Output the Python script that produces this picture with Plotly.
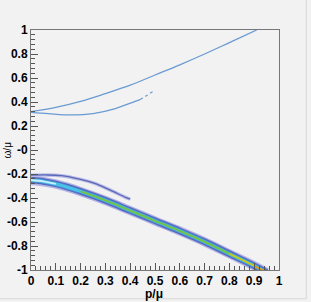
import plotly.graph_objects as go

# Upper branch (solid, reaches top of frame)
upper_p = [0.0, 0.1, 0.2, 0.3, 0.4, 0.5, 0.6, 0.7, 0.8, 0.91]
upper_w = [0.319, 0.355, 0.405, 0.47, 0.54, 0.625, 0.71, 0.8, 0.895, 1.0]

# Lower curve of the upper pair (solid part, then dotted tail)
mid_p = [0.0, 0.07, 0.16, 0.25, 0.34, 0.42, 0.44]
mid_w = [0.314, 0.303, 0.292, 0.303, 0.345, 0.405, 0.42]
mid_tail_p = [0.44, 0.465, 0.49]
mid_tail_w = [0.42, 0.452, 0.486]

# Main (lower) band centre line
band_p = [0.0, 0.05, 0.1, 0.2, 0.3, 0.4, 0.5, 0.6, 0.7, 0.8, 0.9, 0.95]
band_w = [-0.25, -0.262, -0.283, -0.345, -0.42, -0.505, -0.59, -0.675, -0.765, -0.865, -0.965, -1.02]
# lower halo edge of the band
halo_w = [-0.272, -0.283, -0.303, -0.363, -0.438, -0.521, -0.605, -0.69, -0.778, -0.876, -0.976, -1.03]

# Secondary branch above the main band
sec_p = [0.0, 0.06, 0.122, 0.2, 0.257, 0.32, 0.384, 0.4]
sec_w = [-0.21, -0.208, -0.214, -0.245, -0.278, -0.335, -0.397, -0.41]

# y tick labels
y_vals = [-1, -0.8, -0.6, -0.4, -0.2, 0, 0.2, 0.4, 0.6, 0.8, 1]
y_text = ["-1", "-0.8", "-0.6", "-0.4", "-0.2", "-0", "0.2", "0.4", "0.6", "0.8", "1"]
x_vals = [0, 0.1, 0.2, 0.3, 0.4, 0.5, 0.6, 0.7, 0.8, 0.9, 1]
x_text = ["0", "0.1", "0.2", "0.3", "0.4", "0.5", "0.6", "0.7", "0.8", "0.9", "1"]

fig = go.Figure()

def add(x, y, color, width, dash="solid", shape="spline"):
    fig.add_trace(go.Scatter(x=x, y=y, mode="lines",
                             line=dict(color=color, width=width, dash=dash, shape=shape),
                             hoverinfo="skip", showlegend=False))

def sub(xs, ys, lo, hi):
    px, py = [], []
    for a, b in zip(xs, ys):
        if lo <= a <= hi:
            px.append(a); py.append(b)
    return px, py

# main band layers
add(band_p, halo_w, "#c4c4ea", 5)
add(band_p, band_w, "#b0b0e4", 9)
add(band_p, band_w, "#5565bf", 6.5)
add(band_p, band_w, "#4a88d0", 4.5)
add(band_p, band_w, "#48c2e6", 3)
gp, gw = sub(band_p, band_w, 0.2, 0.95)
add(gp, gw, "#74c244", 2)
yp, yw = sub(band_p, band_w, 0.8, 0.95)
add(yp, yw, "#c8c828", 1.8)
op, ow = sub(band_p, band_w, 0.9, 0.95)
add(op, ow, "#e08a2a", 1.4)
cp, cw = sub(band_p, band_w, 0.0, 0.1)
add(cp, cw, "#c8f0f8", 1.8)

# secondary branch
add(sec_p, sec_w, "#bcbce8", 3.5)
add(sec_p, sec_w, "#5a68b8", 1.3)

# upper curves
add(upper_p, upper_w, "#6a9ad2", 1.3)
add(mid_p, mid_w, "#6a9ad2", 1.3)
add(mid_tail_p, mid_tail_w, "#6a9ad2", 1.2, dash="dot")

axis_font = dict(family="Liberation Sans", size=12, color="black", weight="bold")
fig.update_layout(
    width=311, height=302,
    margin=dict(l=31, r=32, t=30, b=32, autoexpand=False),
    paper_bgcolor="#f2f2f2", plot_bgcolor="#f2f2f2",
    xaxis=dict(range=[0, 1], showgrid=False, zeroline=False, showline=True, mirror=True,
               automargin=False,
               linecolor="#777777", linewidth=1, ticks="inside", ticklen=7, tickcolor="#555555",
               tickmode="array", tickvals=x_vals, ticktext=x_text, tickfont=axis_font,
               minor=dict(ticks="inside", ticklen=4, tickcolor="#555555", tickmode="linear",
                          tick0=0, dtick=0.02, showgrid=False)),
    yaxis=dict(range=[-1, 1], showgrid=False, zeroline=False, showline=True, mirror=True,
               automargin=False,
               linecolor="#777777", linewidth=1, ticks="inside", ticklen=7, tickcolor="#555555",
               tickmode="array", tickvals=y_vals, ticktext=y_text, tickfont=axis_font,
               minor=dict(ticks="inside", ticklen=4, tickcolor="#555555", tickmode="linear",
                          tick0=0, dtick=0.04, showgrid=False)),
    annotations=[
        dict(text="p/μ", xref="paper", yref="paper", x=0.495, y=-0.099, xanchor="center",
             yanchor="middle", showarrow=False,
             font=dict(family="Liberation Sans", size=12, color="black", weight="bold")),
        dict(text="ω/μ", xref="paper", yref="paper", x=-0.095, y=0.5, xanchor="center",
             yanchor="middle", textangle=-90, showarrow=False,
             font=dict(family="Liberation Sans", size=10, color="black")),
    ],
    shapes=[
        dict(type="line", xref="paper", yref="paper", x0=1.11, x1=1.11, y0=-0.12, y1=1.125,
             line=dict(color="#d6d6d6", width=1)),
        dict(type="line", xref="paper", yref="paper", x0=-0.13, x1=1.11, y0=-0.12, y1=-0.12,
             line=dict(color="#d6d6d6", width=1)),
    ],
)

fig.write_html("out.html", config={"displayModeBar": False},
               post_script="document.body.style.margin='0';document.body.style.overflow='hidden';")
